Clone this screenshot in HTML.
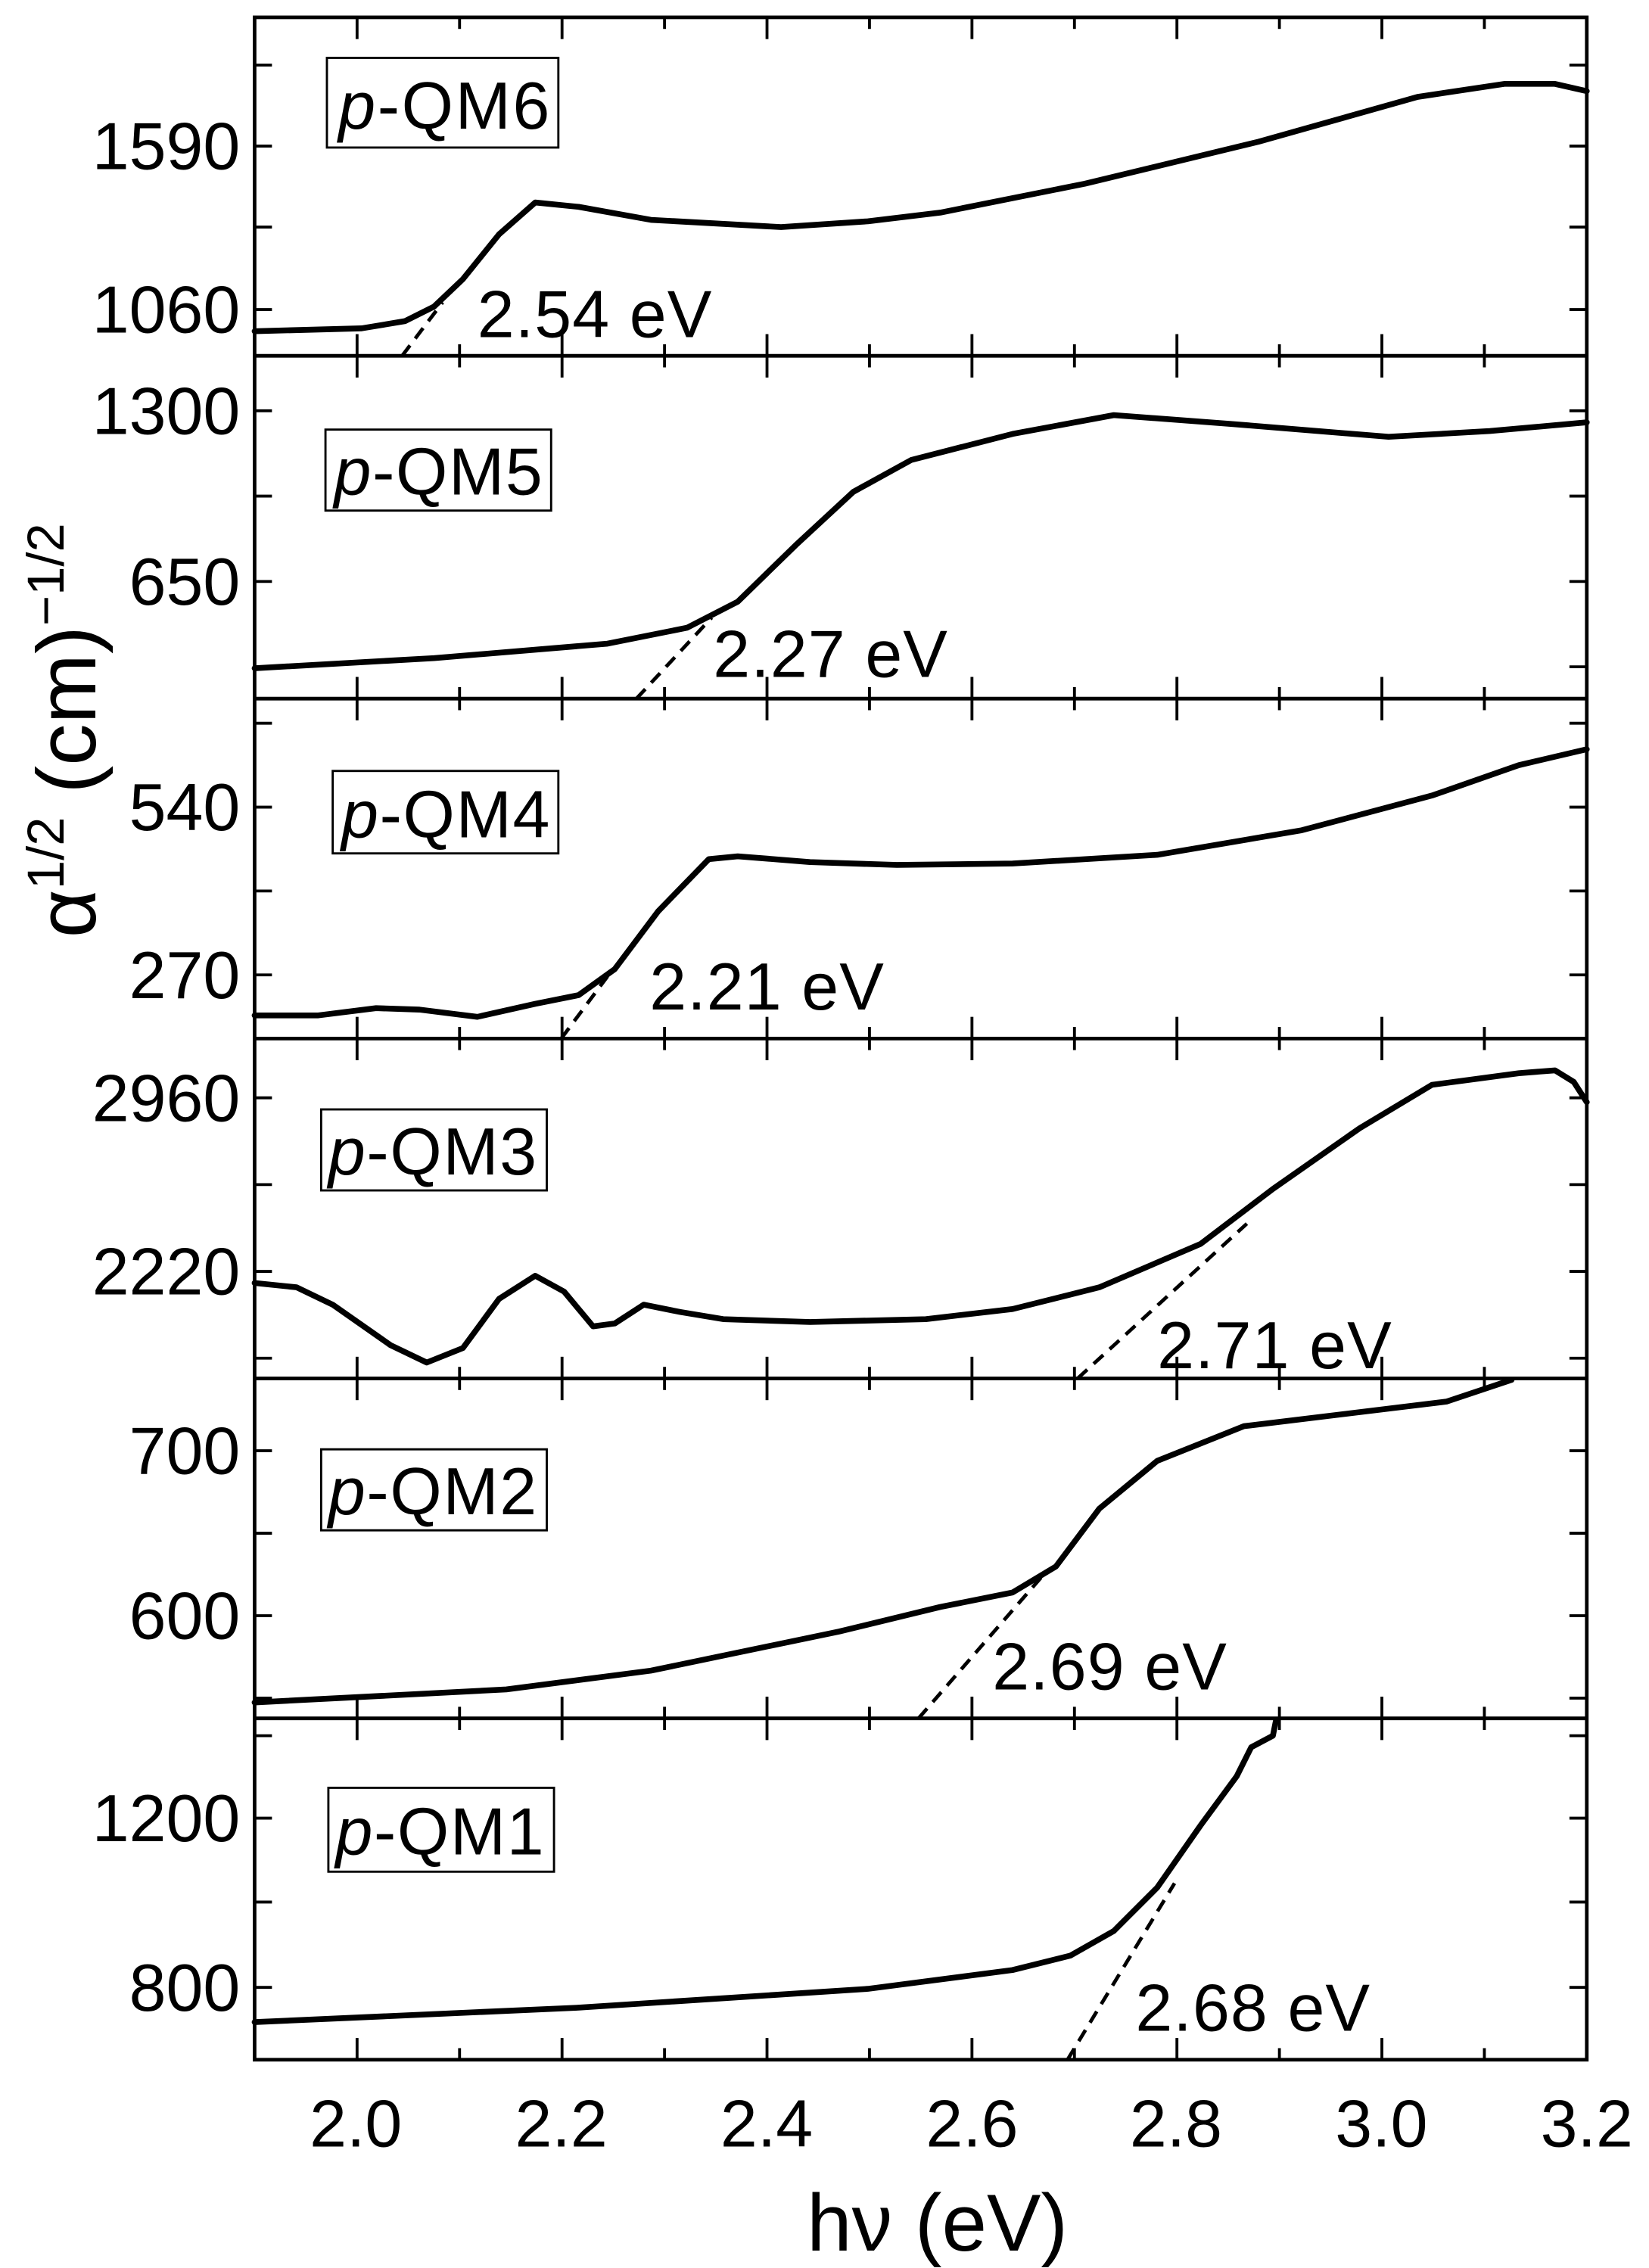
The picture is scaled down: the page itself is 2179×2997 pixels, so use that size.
<!DOCTYPE html>
<html><head><meta charset="utf-8"><style>html,body{margin:0;padding:0;background:#fff}svg{display:block}</style></head>
<body>
<svg width="2179" height="2997" viewBox="0 0 1140 1568" xmlns="http://www.w3.org/2000/svg" font-family="Liberation Sans, Arial, sans-serif">
<g fill="none" stroke="#000" stroke-width="2.5">
<rect x="176" y="12" width="921" height="1412"/>
<line x1="176" y1="246" x2="1097" y2="246"/>
<line x1="176" y1="483" x2="1097" y2="483"/>
<line x1="176" y1="718" x2="1097" y2="718"/>
<line x1="176" y1="953" x2="1097" y2="953"/>
<line x1="176" y1="1188" x2="1097" y2="1188"/>
</g>
<g id="xt" stroke="#000" stroke-width="2"></g>
<script>
(function(){
var g=document.getElementById('xt'),ns='http://www.w3.org/2000/svg';
function L(a,b,c,d){var l=document.createElementNS(ns,'line');l.setAttribute('x1',a);l.setAttribute('y1',b);l.setAttribute('x2',c);l.setAttribute('y2',d);g.appendChild(l);}
var panels=[[12,246,[45,101,157,214]],[246,483,[284,343,402,461]],[483,718,[500,558,616,674]],[718,953,[759,819,879,939]],[953,1188,[1003,1060,1117,1174]],[1188,1424,[1200,1257,1315,1374]]];
panels.forEach(function(p){
 for(var i=1;i<13;i++){var x=176+i*70.85;var len=(i%2==1)?15:8;L(x,p[0],x,p[0]+len);L(x,p[1],x,p[1]-len);}
 p[2].forEach(function(y,j){L(176,y,176+12,y);L(1097,y,1097-12,y);});
});
})();
</script>
<g fill="none" stroke="#000" stroke-width="4" stroke-linejoin="round" stroke-linecap="round">
<path d="M176,229 L250,227 L280,222 L300,212 L320,193 L345,162 L370,140 L400,143 L450,152 L540,157 L600,153 L650,147 L750,127 L870,98 L980,67 L1040,58 L1075,58 L1097,63"/>
<path d="M176,462 L300,455 L420,445 L475,434 L510,416 L550,377 L590,340 L630,318 L700,300 L770,287 L850,293 L960,302 L1030,298 L1097,292"/>
<path d="M176,702 L220,702 L260,697 L290,698 L330,703 L370,694 L400,688 L425,670 L455,630 L490,594 L510,592 L560,596 L620,598 L700,597 L800,591 L900,574 L990,550 L1050,529 L1097,518"/>
<path d="M176,887 L205,890 L230,902 L270,930 L295,942 L320,932 L345,898 L370,882 L390,893 L410,917 L425,915 L445,902 L470,907 L500,912 L560,914 L640,912 L700,905 L760,890 L830,860 L880,822 L940,780 L990,750 L1050,742 L1075,740 L1088,748 L1097,762"/>
<path d="M176,1177 L350,1168 L450,1155 L580,1128 L650,1111 L700,1101 L730,1083 L760,1043 L800,1010 L860,986 L1000,969 L1045,954"/>
<path d="M176,1398 L400,1388 L600,1375 L700,1362 L740,1352 L770,1335 L800,1305 L830,1262 L855,1228 L865,1208 L880,1200 L882,1190"/>
</g>
<g stroke="#000" stroke-width="2.5" stroke-dasharray="9,6" fill="none">
<line x1="278" y1="246" x2="306" y2="209"/>
<line x1="440" y1="483" x2="492" y2="427"/>
<line x1="388" y1="718" x2="420" y2="675"/>
<line x1="745" y1="953" x2="862" y2="846"/>
<line x1="635" y1="1188" x2="722" y2="1088"/>
<line x1="738" y1="1424" x2="812" y2="1302"/>
</g>
<g fill="#fff" stroke="#000" stroke-width="1.5">
<rect x="226" y="40" width="160" height="62"/>
<rect x="225" y="297" width="156" height="56"/>
<rect x="230" y="533" width="156" height="57"/>
<rect x="222" y="767" width="156" height="56"/>
<rect x="222" y="1002" width="156" height="56"/>
<rect x="227" y="1236" width="156" height="58"/>
</g>
<g font-size="46" fill="#000">
<text x="234" y="89" textLength="146"><tspan font-style="italic">p</tspan>-QM6</text>
<text x="231" y="342" textLength="144"><tspan font-style="italic">p</tspan>-QM5</text>
<text x="236" y="579" textLength="144"><tspan font-style="italic">p</tspan>-QM4</text>
<text x="227" y="812" textLength="144"><tspan font-style="italic">p</tspan>-QM3</text>
<text x="227" y="1047" textLength="144"><tspan font-style="italic">p</tspan>-QM2</text>
<text x="232" y="1282" textLength="144"><tspan font-style="italic">p</tspan>-QM1</text>
<text x="330" y="233" textLength="162">2.54 eV</text>
<text x="493" y="468" textLength="162">2.27 eV</text>
<text x="449" y="698" textLength="162">2.21 eV</text>
<text x="800" y="946" textLength="162">2.71 eV</text>
<text x="686" y="1168" textLength="162">2.69 eV</text>
<text x="785" y="1404" textLength="162">2.68 eV</text>
</g>
<g font-size="46" fill="#000" text-anchor="end">
<text x="166" y="117">1590</text><text x="166" y="230">1060</text>
<text x="166" y="300">1300</text><text x="166" y="418">650</text>
<text x="166" y="574">540</text><text x="166" y="690">270</text>
<text x="166" y="775">2960</text><text x="166" y="895">2220</text>
<text x="166" y="1019">700</text><text x="166" y="1133">600</text>
<text x="166" y="1273">1200</text><text x="166" y="1390">800</text>
</g>
<g font-size="46" fill="#000" text-anchor="middle">
<text x="246" y="1484">2.0</text><text x="388" y="1484">2.2</text><text x="530" y="1484">2.4</text>
<text x="672" y="1484">2.6</text><text x="813" y="1484">2.8</text><text x="955" y="1484">3.0</text><text x="1097" y="1484">3.2</text>
<text x="648" y="1556" font-size="56">hν (eV)</text>
</g>
<text transform="translate(66,505) rotate(-90)" text-anchor="middle" font-size="58" fill="#000">α<tspan font-size="36" dy="-22">1/2</tspan><tspan dy="22"> (cm)</tspan><tspan font-size="36" dy="-22">−1/2</tspan></text>
</svg>
</body></html>
